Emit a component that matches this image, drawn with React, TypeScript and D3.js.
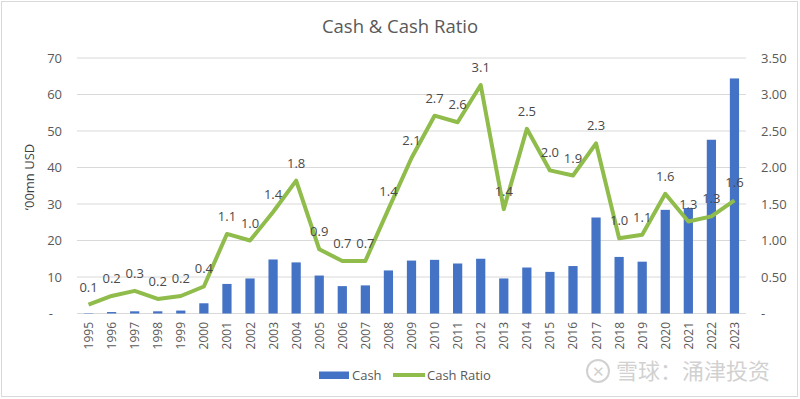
import React from 'react';
import * as d3 from 'd3';

const years = ['1995','1996','1997','1998','1999','2000','2001','2002','2003','2004','2005','2006','2007','2008','2009','2010','2011','2012','2013','2014','2015','2016','2017','2018','2019','2020','2021','2022','2023'];
const cash = [0.1, 0.4, 0.6, 0.6, 0.8, 2.8, 8.1, 9.6, 14.8, 14.0, 10.4, 7.5, 7.7, 11.8, 14.5, 14.7, 13.7, 15.0, 9.6, 12.6, 11.4, 13.0, 26.3, 15.5, 14.2, 28.4, 28.9, 47.6, 64.4];
const cashRatio = [0.12, 0.24, 0.31, 0.2, 0.24, 0.37, 1.09, 1.0, 1.39, 1.82, 0.88, 0.72, 0.72, 1.43, 2.13, 2.71, 2.62, 3.13, 1.43, 2.53, 1.96, 1.89, 2.33, 1.03, 1.08, 1.64, 1.26, 1.33, 1.55];
const leftTicks = [0, 10, 20, 30, 40, 50, 60, 70];
const rightTicks = [0, 0.5, 1, 1.5, 2, 2.5, 3, 3.5];

const W = 800;
const H = 399;
const margin = { top: 58, right: 54, bottom: 85, left: 77 };
const FONT = '"Open Sans", "Noto Sans", sans-serif';
const TEXT = '#595959';
const BAR = '#4472C4';
const LINE = '#8FBC4A';

export default function App() {
  const x = d3.scaleBand<string>()
    .domain(years)
    .range([margin.left, W - margin.right])
    .paddingInner(0.6)
    .paddingOuter(0.3);
  const y = d3.scaleLinear().domain([0, 70]).range([H - margin.bottom - 0.5, margin.top]);
  const y2 = d3.scaleLinear().domain([0, 3.5]).range([H - margin.bottom - 0.5, margin.top]);
  const cx = (yr: string) => (x(yr) as number) + x.bandwidth() / 2;

  const line = d3.line<number>()
    .x((_, i) => cx(years[i]))
    .y(d => y2(d));

  return (
    <div style={{ position: 'absolute', left: 0, top: 0 }}>
      <svg width={W} height={H} style={{ display: 'block', fontFamily: FONT }}>
        <rect x={0} y={0} width={W} height={H} fill="#fff" />
        <rect x={1.5} y={1.5} width={W - 4} height={H - 4} fill="none" stroke="#d9d9d9" />
        <text x={400} y={33} textAnchor="middle" fontSize={18.5} fill={TEXT}>Cash &amp; Cash Ratio</text>

        {leftTicks.map(t => (
          <line key={'g' + t} x1={margin.left} x2={W - margin.right} y1={y(t)} y2={y(t)} stroke="#d9d9d9" strokeWidth={1} />
        ))}
        {leftTicks.map(t => (
          <text key={'l' + t} x={t === 0 ? 53 : 62} y={y(t) + 4.5} textAnchor="end" fontSize={13} fill={TEXT}>
            {t === 0 ? '-' : t}
          </text>
        ))}
        {rightTicks.map(t => (
          <text key={'r' + t} x={761} y={y2(t) + 4.5} textAnchor="start" fontSize={13} fill={TEXT}>
            {t === 0 ? '-' : t.toFixed(2)}
          </text>
        ))}
        <text transform="translate(34,177) rotate(-90)" textAnchor="middle" fontSize={13} fill="#404040">‘00mn USD</text>

        {cash.map((v, i) => (
          <rect key={'b' + i} x={x(years[i])} y={y(v)} width={x.bandwidth()} height={y(0) - y(v)} fill={BAR} />
        ))}

        {years.map(yr => (
          <text key={'x' + yr} transform={`translate(${cx(yr) + 4.5},322) rotate(-90)`} textAnchor="end" fontSize={12} fill={TEXT}>{yr}</text>
        ))}

        <path d={line(cashRatio) || ''} fill="none" stroke={LINE} strokeWidth={4} strokeLinejoin="round" />

        {cashRatio.map((v, i) => (
          <text key={'d' + i} x={cx(years[i])} y={y2(v) - 13} textAnchor="middle" fontSize={13} fill="#4a4a4a">{v.toFixed(1)}</text>
        ))}

        <rect x={319} y={371.5} width={30} height={7.5} fill={BAR} />
        <text x={352} y={380} fontSize={13} fill={TEXT}>Cash</text>
        <line x1={393} x2={425} y1={375} y2={375} stroke={LINE} strokeWidth={4} />
        <text x={427} y={380} fontSize={13} fill={TEXT}>Cash Ratio</text>

        <g opacity={0.45}>
          <circle cx={598} cy={371} r={11} fill="none" stroke="#9a9a9a" strokeWidth={2} />
          <text x={598} y={376.5} textAnchor="middle" fontSize={15} fill="#9a9a9a">✕</text>
          <text x={616} y={379} fontSize={22} fill="#9a9a9a" fontFamily='"Noto Sans CJK SC", sans-serif'>雪球：涌津投资</text>
        </g>
      </svg>
    </div>
  );
}
